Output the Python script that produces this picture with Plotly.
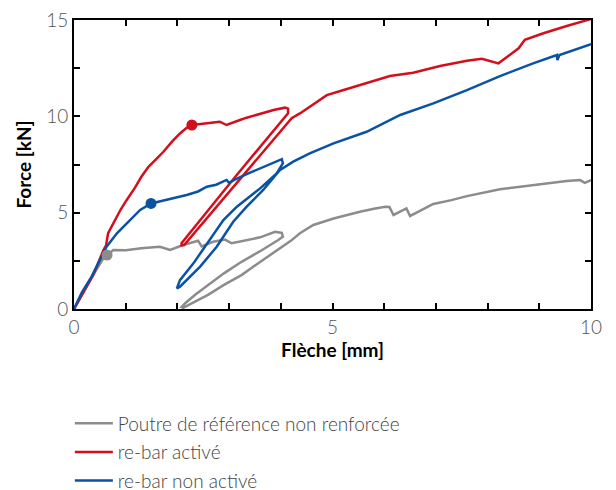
import plotly.graph_objects as go

# Poutre de référence non renforcée (gray)
ref_x = [0, 0.3, 0.55, 0.64, 0.76, 1.0, 1.3, 1.66, 1.86, 1.95, 2.11, 2.4, 2.47, 2.69, 2.92, 3.05,
         3.27, 3.4, 3.6, 3.89, 4.02, 4.04, 3.95, 3.6, 3.24, 2.9, 2.6, 2.35, 2.15, 2.08, 2.11, 2.35,
         2.6, 2.9, 3.24, 3.55, 3.89, 4.2, 4.37, 4.63, 5.02, 5.3, 5.53, 5.8, 6.02, 6.1, 6.18, 6.43,
         6.5, 6.7, 6.95, 7.3, 7.6, 8.24, 8.88, 9.53, 9.79, 9.88, 10]
ref_y = [0, 1.45, 2.55, 2.8, 3.06, 3.05, 3.15, 3.23, 3.06, 3.15, 3.32, 3.54, 3.25, 3.49, 3.6, 3.41,
         3.54, 3.6, 3.72, 4.01, 3.95, 3.75, 3.58, 3.0, 2.45, 1.85, 1.25, 0.75, 0.3, 0.1, 0.06, 0.4,
         0.75, 1.25, 1.76, 2.35, 2.97, 3.55, 3.93, 4.36, 4.7, 4.9, 5.05, 5.2, 5.31, 5.3, 4.88, 5.22,
         4.83, 5.1, 5.45, 5.65, 5.86, 6.21, 6.43, 6.64, 6.69, 6.55, 6.69]

# re-bar activé (red)
act_x = [0, 0.2, 0.37, 0.57, 0.62, 0.66, 0.79, 0.9, 1.02, 1.18, 1.3, 1.44, 1.6, 1.73, 1.9, 2.05,
         2.18, 2.28, 2.45, 2.57, 2.82, 2.95, 3.02, 3.21, 3.34, 3.6, 3.86, 4.08, 4.14, 4.14, 3.1,
         2.08, 2.08, 2.13, 3.17, 4.21, 4.37, 4.56, 4.89, 5.2, 5.53, 6.11, 6.56, 7.08, 7.6, 7.89,
         8.21, 8.4, 8.6, 8.72, 9.08, 9.53, 9.92, 10]
act_y = [0, 0.95, 1.75, 3.06, 3.3, 3.93, 4.62, 5.15, 5.66, 6.3, 6.85, 7.38, 7.8, 8.16, 8.7, 9.11,
         9.4, 9.55, 9.6, 9.63, 9.72, 9.55, 9.63, 9.81, 9.93, 10.15, 10.33, 10.45, 10.4, 10.16, 6.8,
         3.41, 3.3, 3.32, 6.6, 9.9, 10.15, 10.5, 11.1, 11.35, 11.62, 12.09, 12.26, 12.61, 12.89, 12.99,
         12.75, 13.15, 13.53, 13.97, 14.31, 14.69, 14.97, 15.05]

# re-bar non activé (blue)
non_x = [0, 0.15, 0.34, 0.5, 0.63, 0.83, 1.02, 1.28, 1.49, 1.79, 2.0, 2.18, 2.4, 2.57, 2.75, 2.89,
         2.95, 3.0, 3.1, 3.34, 3.55, 3.73, 4.02, 4.04, 3.92, 3.6, 3.15, 2.89, 2.57, 2.31, 2.05, 1.99,
         2.05, 2.44, 2.76, 3.08, 3.34, 3.66, 3.98, 4.24, 4.56, 5.02, 5.66, 6.31, 6.95, 7.6, 8.24,
         8.88, 9.34, 9.35, 9.39, 9.98, 10]
non_y = [0, 0.85, 1.68, 2.5, 3.23, 3.93, 4.45, 5.14, 5.48, 5.66, 5.8, 5.92, 6.1, 6.35, 6.45, 6.61,
         6.7, 6.55, 6.7, 7.0, 7.25, 7.47, 7.78, 7.56, 7.04, 6.26, 5.31, 4.62, 3.41, 2.37, 1.5, 1.07,
         1.16, 2.2, 3.23, 4.53, 5.31, 6.18, 7.21, 7.65, 8.08, 8.6, 9.2, 10.07, 10.67, 11.36, 12.09,
         12.75, 13.18, 12.92, 13.18, 13.7, 13.75]

# highlighted points (first crack)
pt_x = [0.64, 2.28, 1.49]
pt_y = [2.8, 9.55, 5.48]

names = ["Poutre de référence non renforcée", "re-bar activé", "re-bar non activé"]
colors = ["#8c8c8c", "#d40f1c", "#0a52a3"]
xs = [ref_x, act_x, non_x]
ys = [ref_y, act_y, non_y]

fig = go.Figure()
for i in range(3):
    fig.add_trace(go.Scatter(x=xs[i], y=ys[i], mode="lines", name=names[i],
                             line=dict(color=colors[i], width=2.5),
                             legendgroup=str(i)))
for i in range(3):
    fig.add_trace(go.Scatter(x=[pt_x[i]], y=[pt_y[i]], mode="markers", showlegend=False,
                             marker=dict(color=colors[i], size=11), legendgroup=str(i)))

tickfont = dict(family="Lato Light, Lato", size=19, color="#555555")
titlefont = dict(family="Lato", size=19, color="black")

fig.update_xaxes(range=[0, 10], dtick=5,
                 ticks="inside", ticklen=6, tickwidth=1.5, tickcolor="black",
                 minor=dict(dtick=1, ticks="inside", ticklen=6, tickwidth=1.5, tickcolor="black"),
                 showline=True, linewidth=1.6, linecolor="black", mirror="allticks",
                 showgrid=False, zeroline=False, tickfont=tickfont,
                 title=dict(text="<b>Flèche [mm]</b>", font=titlefont, standoff=5))
fig.update_yaxes(range=[0, 15], dtick=5,
                 ticks="inside", ticklen=6, tickwidth=1.5, tickcolor="black",
                 minor=dict(dtick=2.5, ticks="inside", ticklen=6, tickwidth=1.5, tickcolor="black"),
                 showline=True, linewidth=1.6, linecolor="black", mirror="allticks",
                 showgrid=False, zeroline=False, tickfont=tickfont,
                 title=dict(text="<b>Force [kN]</b>", font=titlefont, standoff=10))

fig.update_layout(
    width=616, height=490,
    margin=dict(l=74, r=25, t=20, b=181, autoexpand=False),
    plot_bgcolor="white", paper_bgcolor="white",
    legend=dict(x=-0.008, y=-0.33, xanchor="left", yanchor="top", tracegroupgap=1,
                itemwidth=38,
                font=dict(family="Lato Light, Lato", size=19, color="#444444")),
)

fig.write_html("out.html")
